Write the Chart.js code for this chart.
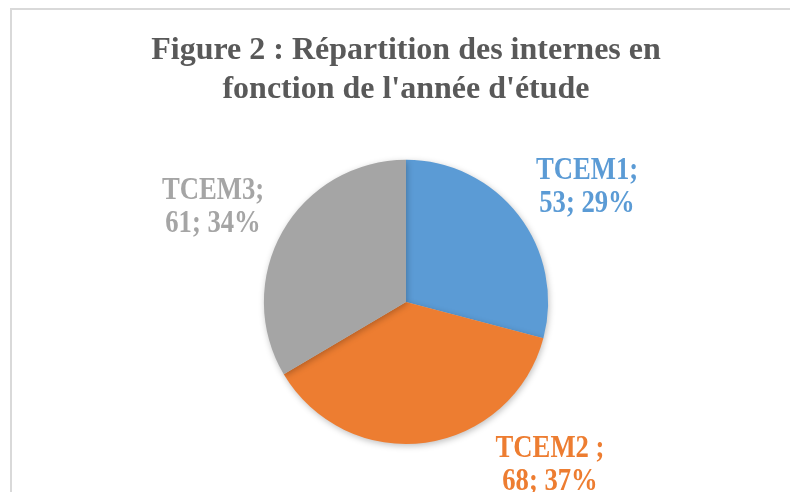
<!DOCTYPE html>
<html>
<head>
<meta charset="utf-8">
<script src="https://cdn.jsdelivr.net/npm/chart.js@4.4.0/dist/chart.umd.min.js"></script>
<style>
  html, body { margin: 0; padding: 0; background: #fff; }
  #wrap { position: relative; width: 790px; height: 492px; overflow: hidden; }
  #frame { position: absolute; left: 10px; top: 8px; width: 800px; height: 500px; border: 2px solid #d9d9d9; }
  #chart { position: absolute; left: 0; top: 0; }
</style>
</head>
<body>
<div id="wrap">
  <div id="frame"></div>
  <canvas id="chart" width="790" height="492"></canvas>
</div>
<script>
var categories = ["TCEM1", "TCEM2", "TCEM3"];
var values = [53, 68, 61];
var labelSep = [";", " ;", ";"];
var colors = ["#5B9BD5", "#ED7D31", "#A5A5A5"];

// label positions (centre of the text block), set by hand like in excel
var labelOffsets = [[587, 187], [550, 465], [213, 207]];

var total = values.reduce(function (a, b) { return a + b; }, 0);

var outLabels = {
  id: 'outLabels',
  afterDatasetsDraw: function (chart) {
    var ctx = chart.ctx;
    ctx.save();
    ctx.font = 'bold 31px "Liberation Serif", "Times New Roman", serif';
    ctx.textAlign = 'center';
    ctx.textBaseline = 'middle';
    values.forEach(function (v, i) {
      var pct = Math.round(v / total * 100);
      var lines = [categories[i] + labelSep[i], v + '; ' + pct + '%'];
      var p = labelOffsets[i];
      ctx.fillStyle = colors[i];
      lines.forEach(function (t, j) {
        ctx.save();
        ctx.translate(p[0], p[1] + (j - 0.5) * 33);
        ctx.scale(0.86, 1);
        ctx.fillText(t, 0, 0);
        ctx.restore();
      });
    });
    ctx.restore();
  }
};

var pieShadow = {
  id: 'pieShadow',
  beforeDatasetsDraw: function (chart) {
    var ctx = chart.ctx;
    ctx.save();
    ctx.shadowColor = 'rgba(0,0,0,0.25)';
    ctx.shadowBlur = 6;
    ctx.shadowOffsetX = 1;
    ctx.shadowOffsetY = 2;
  },
  afterDatasetsDraw: function (chart) {
    chart.ctx.restore();
  }
};

var ctx = document.getElementById('chart').getContext('2d');
var myPie = new Chart(ctx, {
  type: 'pie',
  data: {
    labels: categories,
    datasets: [{
      data: values,
      backgroundColor: colors,
      borderWidth: 0
    }]
  },
  options: {
    responsive: false,
    animation: false,
    layout: {
      padding: { left: 22, right: 0, top: 0, bottom: 48 }
    },
    plugins: {
      legend: { display: false },
      tooltip: { enabled: false },
      title: {
        display: true,
        text: ["Figure 2 : Répartition des internes en", "fonction de l'année d'étude"],
        color: '#595959',
        font: { family: '"Liberation Serif", "Times New Roman", serif', size: 32, weight: 'bold', lineHeight: 1.2 },
        padding: { top: 32, bottom: 51 }
      }
    }
  },
  plugins: [pieShadow, outLabels]
});
</script>
</body>
</html>
